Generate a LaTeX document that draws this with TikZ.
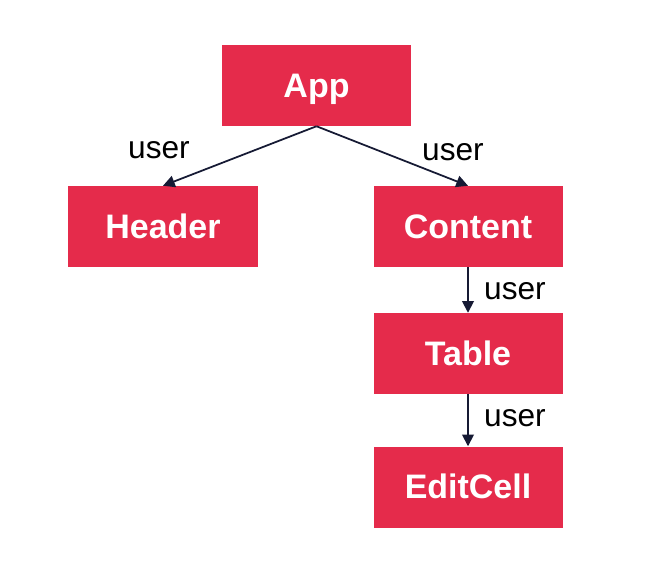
\documentclass[tikz,border=0pt]{standalone}
\usepackage{fontspec}
\setmainfont{Liberation Sans}
\usepackage{xcolor}
\definecolor{boxred}{RGB}{229, 43, 75}
\definecolor{arrowdark}{RGB}{22, 26, 52}
\usetikzlibrary{arrows.meta, positioning}

\begin{document}
\begin{tikzpicture}[
    x=0.03cm, y=-0.03cm,
    comp/.style={rectangle, fill=boxred, text=white, minimum width=5.67cm,
                 minimum height=2.43cm, inner sep=0pt, text height=20pt, text depth=0pt,
                 font=\fontsize{29}{32}\selectfont\bfseries},
    prop/.style={font=\fontsize{27}{32}\selectfont},
    pass/.style={-{Triangle[length=10pt, width=10pt]}, line width=1.5pt, arrowdark}
]
    \useasboundingbox (0,0) rectangle (649,586);

    \node[comp] (app) at (316.5,85.5) {App};
    \node[comp] (header) at (163,226.5) {Header};
    \node[comp] (content) at (468,226.5) {Content};
    \node[comp] (table) at (468,353.5) {Table};
    \node[comp] (edit) at (468,487) {EditCell};

    \draw[pass] (app.south) -- (header.north);
    \draw[pass] (app.south) -- (content.north);
    \draw[pass] (content.south) -- (table.north);
    \draw[pass] (table.south) -- (edit.north);

    \node[prop] (u1) at (159,150) {user};
    \node[prop] (u2) at (453,152) {user};
    \node[prop] (u3) at (515,291) {user};
    \node[prop] (u4) at (515,418) {user};
\end{tikzpicture}
\end{document}
